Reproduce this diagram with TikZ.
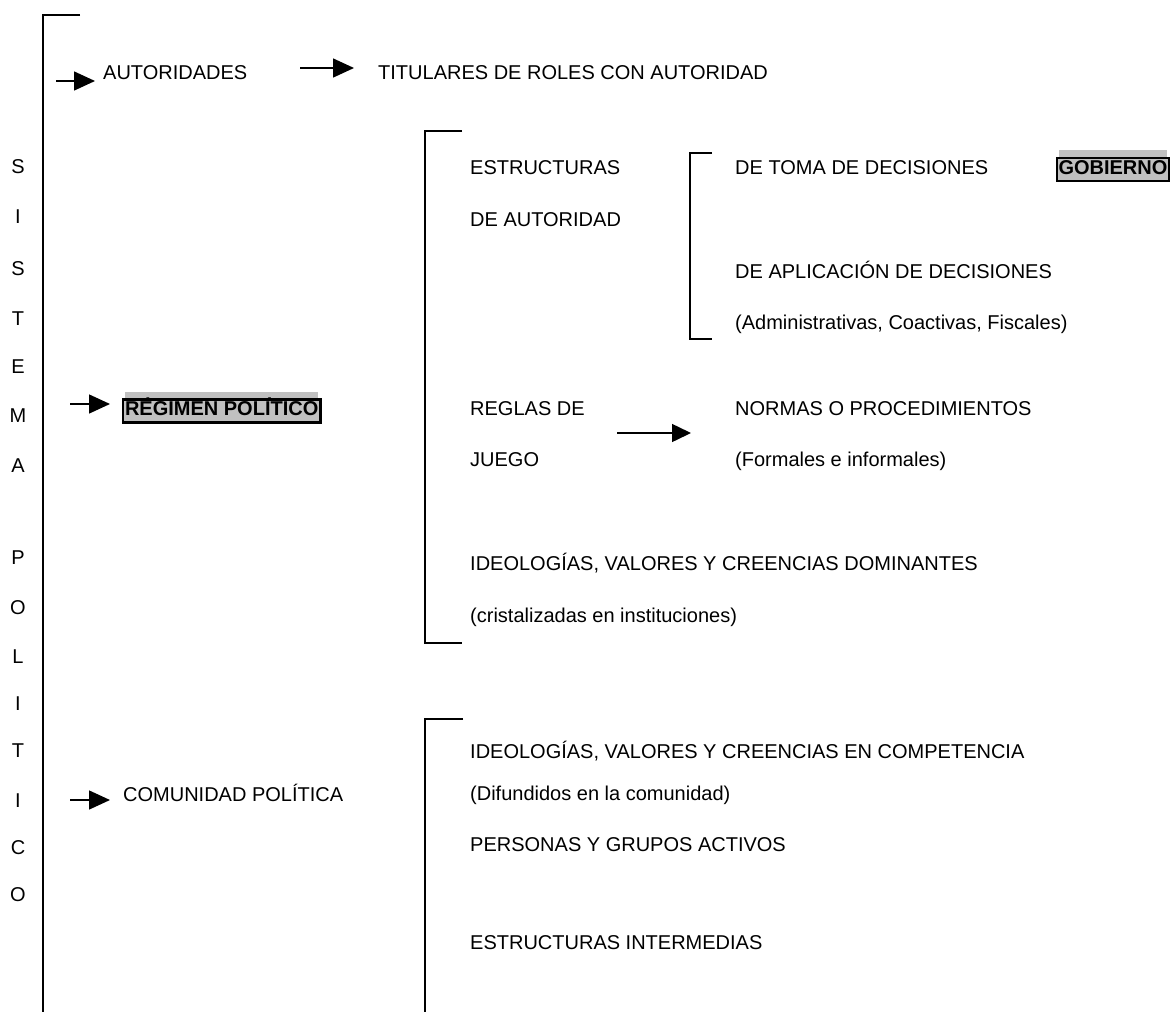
\documentclass[tikz,border=0pt]{standalone}
\usepackage{fontspec}
\setmainfont{Liberation Sans}
\usetikzlibrary{arrows.meta,backgrounds}
\definecolor{boxgray}{HTML}{C0C0C0}
\begin{document}
\begin{tikzpicture}[x=1pt,y=-1pt,
  txt/.style={anchor=base west,inner sep=0pt,font=\fontsize{20}{24}\selectfont},
  letter/.style={anchor=base,inner sep=0pt,font=\fontsize{20}{24}\selectfont},
  boxed/.style={anchor=base west,draw,line width=2.5pt,fill=boxgray,inner xsep=2pt,inner ysep=1.5pt,
    outer sep=0pt,text height=14pt,text depth=6pt,font=\fontsize{20}{24}\selectfont\bfseries},
  brk/.style={line width=2pt},
  arr/.style={line width=1.5pt,-{Triangle[length=21pt,width=19pt]}},
  arrs/.style={line width=1.5pt,-{Triangle[length=19pt,width=18pt]}}]
\useasboundingbox (0,0) rectangle (1173,1012);

% left main bracket
\coordinate (L0) at (80,15);
\coordinate (L1) at (43,15);
\coordinate (L2) at (43,1013);
\draw[brk] (L0) -- (L1) -- (L2);

% vertical letters
\foreach \ch/\yy [count=\i] in {S/166,I/216,S/268,T/318,E/366,M/415,A/465,P/557,O/607,L/656,I/703,T/750,I/800,C/847,O/894}
  \node[letter] (let\i) at (18,\yy+7) {\ch};

% AUTORIDADES row
\node[txt] (aut) at (103,79) {AUTORIDADES};
\node[txt] (tit) at (378,79) {TITULARES DE ROLES CON AUTORIDAD};
\coordinate (a1s) at (56,81);
\coordinate (a1e) at (95,81);
\draw[arr] (a1s) -- (a1e);
\coordinate (a2s) at (300,68);
\coordinate (a2e) at (354,68);
\draw[arr] (a2s) -- (a2e);

% REGIMEN
\node[boxed] (reg) at (123,415) {RÉGIMEN POLÍTICO};
\begin{scope}[on background layer]
\fill[boxgray] ([xshift=2pt,yshift=1.25pt]reg.north west) rectangle ([xshift=-2pt,yshift=8pt]reg.north east);
\end{scope}
\coordinate (a3s) at (70,404);
\coordinate (a3e) at (110,404);
\draw[arr] (a3s) -- (a3e);

% COMUNIDAD
\node[txt] (com) at (123,801) {COMUNIDAD POLÍTICA};
\coordinate (a4s) at (70,800);
\coordinate (a4e) at (110,800);
\draw[arr] (a4s) -- (a4e);

% regime bracket
\coordinate (b1a) at (462,131);
\coordinate (b1b) at (425,131);
\coordinate (b1c) at (425,643);
\coordinate (b1d) at (462,643);
\draw[brk] (b1a) -- (b1b) -- (b1c) -- (b1d);

\node[txt] (est) at (470,174) {ESTRUCTURAS};
\node[txt] (deaut) at (470,226) {DE AUTORIDAD};

% inner bracket
\coordinate (b2a) at (712,153);
\coordinate (b2b) at (690,153);
\coordinate (b2c) at (690,339);
\coordinate (b2d) at (712,339);
\draw[brk] (b2a) -- (b2b) -- (b2c) -- (b2d);

\node[txt] (toma) at (735,174) {DE TOMA DE DECISIONES};
\node[boxed,inner xsep=1.5pt,text height=15pt,text depth=5pt] (gob) at (1057,174.5) {GOBIERNO};
\begin{scope}[on background layer]
\fill[boxgray] ([xshift=2pt,yshift=1.25pt]gob.north west) rectangle ([xshift=-2pt,yshift=8pt]gob.north east);
\end{scope}
\node[txt] (apl) at (735,278) {DE APLICACIÓN DE DECISIONES};
\node[txt] (adm) at (735,329) {(Administrativas, Coactivas, Fiscales)};

\node[txt] (reglas) at (470,415) {REGLAS DE};
\node[txt] (juego) at (470,466) {JUEGO};
\coordinate (a5s) at (617,433);
\coordinate (a5e) at (691,433);
\draw[arrs] (a5s) -- (a5e);
\node[txt] (normas) at (735,415) {NORMAS O PROCEDIMIENTOS};
\node[txt] (form) at (735,466) {(Formales e informales)};

\node[txt] (ideo1) at (470,570) {IDEOLOGÍAS, VALORES Y CREENCIAS DOMINANTES};
\node[txt] (crist) at (470,622) {(cristalizadas en instituciones)};

% community bracket
\coordinate (b3a) at (463,719);
\coordinate (b3b) at (425,719);
\coordinate (b3c) at (425,1013);
\draw[brk] (b3a) -- (b3b) -- (b3c);

\node[txt] (ideo2) at (470,758) {IDEOLOGÍAS, VALORES Y CREENCIAS EN COMPETENCIA};
\node[txt] (dif) at (470,800) {(Difundidos en la comunidad)};
\node[txt] (pers) at (470,851) {PERSONAS Y GRUPOS ACTIVOS};
\node[txt] (inter) at (470,949) {ESTRUCTURAS INTERMEDIAS};
\end{tikzpicture}
\end{document}
